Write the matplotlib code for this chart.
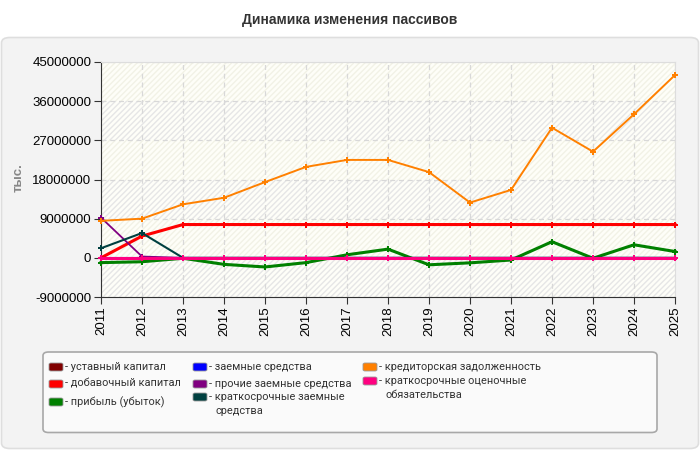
import numpy as np
import matplotlib
matplotlib.use('Agg')
import matplotlib.pyplot as plt
from matplotlib.patches import FancyBboxPatch

plt.rcParams['font.family'] = ['Liberation Sans', 'DejaVu Sans']

# Data (тыс.)
years = [2011, 2012, 2013, 2014, 2015, 2016, 2017, 2018, 2019, 2020, 2021, 2022, 2023, 2024, 2025]
ustavny = [0, 0, 0, 0, 0, 0, 0, 0, 0, 0, 0, 0, 0, 0, 0]
dobavochny = [0, 5000000, 7650000, 7650000, 7650000, 7650000, 7650000, 7650000,
              7650000, 7650000, 7650000, 7650000, 7650000, 7650000, 7650000]
pribyl = [-1100000, -900000, -100000, -1500000, -2100000, -1100000, 700000, 2000000,
          -1600000, -1150000, -500000, 3700000, -100000, 3000000, 1450000]
zaemnye = [0, 0, 0, 0, 0, 0, 0, 0, 0, 0, 0, 0, 0, 0, 0]
prochie = [9250000, 300000, 0, 0, 0, 0, 0, 0, 0, 0, 0, 0, 0, 0, 0]
kratk_zaemnye = [2200000, 5700000, 0, 0, 0, 0, 0, 0, 0, 0, 0, 0, 0, 0, 0]
kreditorskaya = [8500000, 9000000, 12300000, 13800000, 17400000, 20900000, 22500000, 22500000,
                 19700000, 12700000, 15600000, 29900000, 24400000, 33000000, 42000000]
ocenochnye = [0, 0, 0, 0, 0, 0, 0, 0, 0, 0, 0, 0, 0, 0, 0]

series_names = ['уставный капитал', 'добавочный капитал', 'прибыль (убыток)',
                'заемные средства', 'прочие заемные средства', 'краткосрочные заемные\nсредства',
                'кредиторская задолженность', 'краткосрочные оценочные\nобязательства']
colors = ['#800000', '#ff0000', '#008000', '#0000ff', '#800080', '#004040', '#ff8000', '#ff0080']

fig = plt.figure(figsize=(7, 4.5), dpi=100)
fig.patch.set_facecolor('white')

W, H = 700, 450
def fx(x): return x / W
def fy(y): return 1 - y / H

# grey rounded panel
panel = FancyBboxPatch((fx(1.5), fy(448.5)), fx(697), (448.5 - 37.5) / H,
                       boxstyle='round,pad=0,rounding_size=0.012',
                       transform=fig.transFigure, facecolor='#f3f3f3',
                       edgecolor='#dedede', linewidth=1.2, zorder=-5)
fig.patches.append(panel)

fig.text(0.5, fy(20), 'Динамика изменения пассивов', ha='center', va='center',
         fontsize=10, fontweight='bold', color='#333333')

ax = fig.add_axes([fx(101), fy(297), (675 - 101) / W, (297 - 62) / H])
ax.set_zorder(2)
ax.set_facecolor('#fefef8')

# alternating hatched bands
for lo in [-9000000, 9000000, 27000000]:
    ax.axhspan(lo, lo + 9000000, facecolor='none', hatch='//////',
               edgecolor='#e6e6e6', linewidth=0, zorder=0)
for lo in [0, 18000000, 36000000]:
    ax.axhspan(lo, lo + 9000000, facecolor='none', hatch='//////',
               edgecolor='#f2f2e6', linewidth=0, zorder=0)

ax.set_xlim(2011, 2025)
ax.set_ylim(-9000000, 45000000)
ax.set_yticks(np.arange(-9000000, 45000001, 9000000))
ax.set_yticklabels([str(v) for v in range(-9000000, 45000001, 9000000)], fontsize=9.5)
ax.set_xticks(years)
ax.set_xticklabels([str(y) for y in years], rotation=90, fontsize=9.5)
ax.grid(True, color='#d8d8d8', linestyle=(0, (4, 3)), linewidth=0.9)
ax.set_axisbelow(True)

for s in ['top', 'right']:
    ax.spines[s].set_color('#dddddd')
for s in ['left', 'bottom']:
    ax.spines[s].set_color('#333333')
ax.tick_params(length=5, color='#333333', pad=2)

all_series = [ustavny, dobavochny, pribyl, zaemnye, prochie, kratk_zaemnye, kreditorskaya, ocenochnye]
widths = [2, 2.2, 2.2, 1.5, 1.3, 1.5, 1.4, 2.2]
for vals, col, lw in zip(all_series, colors, widths):
    ax.plot(years, vals, color=col, linewidth=lw, marker='P', markersize=4.5,
            markeredgewidth=0, clip_on=False, zorder=3)

fig.text(fx(19), fy(178), 'тыс.', rotation=90, ha='center', va='center',
         fontsize=9.5, fontweight='bold', color='#888888')

# legend box
leg = FancyBboxPatch((fx(43), fy(432.5)), (657 - 43) / W, (432.5 - 352) / H,
                     boxstyle='round,pad=0,rounding_size=0.008',
                     transform=fig.transFigure, facecolor='#fafafa',
                     edgecolor='#a8a8a8', linewidth=1.2, zorder=1)
fig.patches.append(leg)

cols_x = [49, 193, 363]
rows_y = [[367, 384, 402], [367, 384, 404], [367, 388]]
idx = 0
for c, xs in enumerate(cols_x):
    for ry in rows_y[c]:
        name = series_names[idx]
        first, *rest = name.split('\n')
        ty = ry - 7 if rest else ry
        sw = FancyBboxPatch((fx(xs), fy(ty + 4)), 14 / W, 8 / H,
                            boxstyle='round,pad=0,rounding_size=0.003',
                            transform=fig.transFigure, facecolor=colors[idx],
                            edgecolor='#999999', linewidth=0.6, zorder=2)
        fig.patches.append(sw)
        fig.text(fx(xs + 16), fy(ty), '- ' + first, ha='left', va='center',
                 fontsize=7.9, color='#333333', family='Roboto')
        if rest:
            fig.text(fx(xs + 23), fy(ty + 14), rest[0], ha='left', va='center',
                     fontsize=7.9, color='#333333', family='Roboto')
        idx += 1

fig.savefig('out.png', dpi=100)
